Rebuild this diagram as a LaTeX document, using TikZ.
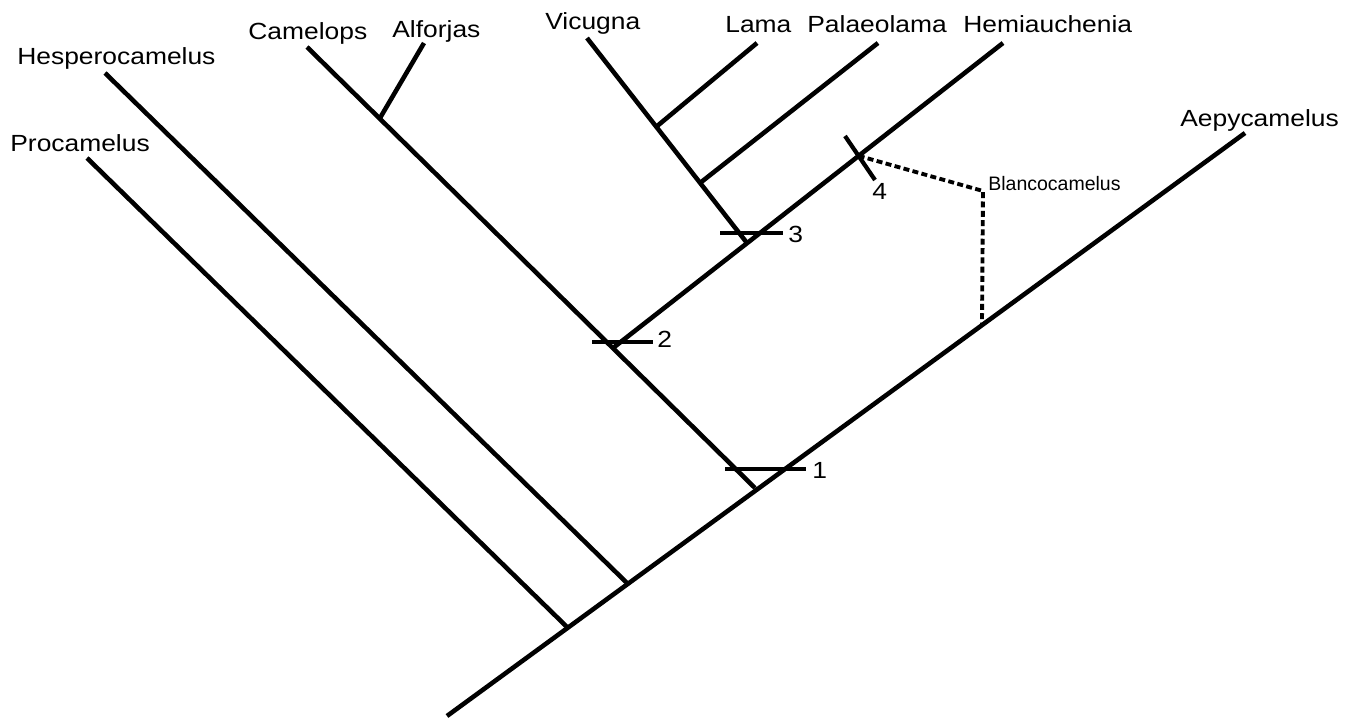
\documentclass[tikz,border=0pt]{standalone}
\usepackage{fontspec}
\usetikzlibrary{calc}
\setmainfont{Liberation Sans}[FakeStretch=1.13]
\newfontfamily\smallfam{Liberation Sans}
\begin{document}
\begin{tikzpicture}[x=0.02cm,y=-0.02cm,
  branch/.style={line width=2.6pt},
  tickmark/.style={line width=2.4pt},
  dashlink/.style={line width=2.2pt, dash pattern=on 3.4pt off 1.9pt},
  taxon/.style={anchor=base west, inner sep=0pt, font=\fontsize{13.3}{16}\selectfont},
  smalltaxon/.style={anchor=base west, inner sep=0pt, font=\smallfam\fontsize{11.1}{13}\selectfont},
  numlabel/.style={anchor=base west, inner sep=0pt, font=\fontsize{13.3}{16}\selectfont}]
\useasboundingbox (0,0) rectangle (1359,719);

% tree coordinates
\coordinate (root) at (447,716);
\coordinate (tAep) at (1245,133);
\coordinate (jPro) at (567,627);
\coordinate (tPro) at (87,158);
\coordinate (jHes) at (627,583);
\coordinate (tHes) at (105,73);
\coordinate (n1) at (755,488);
\coordinate (tCam) at (307,47);
\coordinate (jAlf) at (380,118);
\coordinate (tAlf) at (424,43);
\coordinate (n2) at (613,348);
\coordinate (tHem) at (1003,43);
\coordinate (n3) at (747,243);
\coordinate (tVic) at (587,38);
\coordinate (jLam) at (656,127);
\coordinate (tLam) at (757,43);
\coordinate (jPal) at (700,183);
\coordinate (tPal) at (878,43);
\coordinate (n4) at ($(n2)!0.63!(tHem)$);
\coordinate (bCorner) at (983,191);
\coordinate (bJoin) at ($(root)!0.6704!(tAep)$);

% branches
\draw[branch] (root) -- (tAep);
\draw[branch] (jPro) -- (tPro);
\draw[branch] (jHes) -- (tHes);
\draw[branch] (n1) -- (tCam);
\draw[branch] (jAlf) -- (tAlf);
\draw[branch] (n2) -- (tHem);
\draw[branch] (n3) -- (tVic);
\draw[branch] (jLam) -- (tLam);
\draw[branch] (jPal) -- (tPal);

% ticks
\coordinate (k1a) at (725,469); \coordinate (k1b) at (806,469);
\coordinate (k2a) at (592,342); \coordinate (k2b) at (653,342);
\coordinate (k3a) at (720,233); \coordinate (k3b) at (783,233);
\coordinate (k4a) at (845,136); \coordinate (k4b) at (875,180);
\draw[tickmark] (k1a) -- (k1b);
\draw[tickmark] (k2a) -- (k2b);
\draw[tickmark] (k3a) -- (k3b);
\draw[tickmark] (k4a) -- (k4b);

% Blancocamelus link
\draw[dashlink] (n4) -- (bCorner) -- (bJoin);

% labels
\node[taxon] (lPro) at (10,152) {Procamelus};
\node[taxon] (lHes) at (17,65) {Hesperocamelus};
\node[taxon] (lCam) at (248,40) {Camelops};
\node[taxon] (lAlf) at (392,38) {Alforjas};
\node[taxon] (lVic) at (545,30) {Vicugna};
\node[taxon] (lLam) at (725,33) {Lama};
\node[taxon] (lPal) at (807,33) {Palaeolama};
\node[taxon] (lHem) at (963,33) {Hemiauchenia};
\node[taxon] (lAep) at (1180,127) {Aepycamelus};
\node[smalltaxon] (lBla) at (988,191) {Blancocamelus};
\node[numlabel] (d1) at (812,479) {1};
\node[numlabel] (d2) at (657,348) {2};
\node[numlabel] (d3) at (788,243) {3};
\node[numlabel] (d4) at (872,200) {4};
\end{tikzpicture}
\end{document}
